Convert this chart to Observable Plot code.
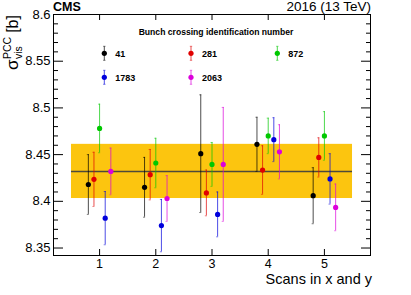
<!DOCTYPE html>
<html><head><meta charset="utf-8">
<script src="https://cdn.jsdelivr.net/npm/d3@7"></script>
<script src="https://cdn.jsdelivr.net/npm/@observablehq/plot@0.6"></script>
<style>
html,body{margin:0;padding:0;background:#fff;}
#chart{position:relative;width:411px;height:295px;}
</style></head><body><div id="chart"></div>
<script>
// ---- data ----
const scans = [1, 2, 3, 4, 5];
const bcids = ["41", "281", "872", "1783", "2063"];
const sigma41   = [8.418, 8.415, 8.451, 8.461, 8.406];
const sigma281  = [8.4235, 8.4285, 8.409, 8.4335, 8.447];
const sigma872  = [8.478, 8.441, 8.4395, 8.470, 8.470];
const sigma1783 = [8.382, 8.374, 8.386, 8.466, 8.424];
const sigma2063 = [8.432, 8.403, 8.4395, 8.453, 8.3935];
const err41   = [0.032, 0.032, 0.063, 0.029, 0.030];
const err281  = [0.029, 0.027, 0.0245, 0.026, 0.021];
const err872  = [0.026, 0.0265, 0.0235, 0.019, 0.026];
const err1783 = [0.0285, 0.028, 0.024, 0.0235, 0.027];
const err2063 = [0.025, 0.0245, 0.061, 0.029, 0.025];
const meanSigma = 8.432;
const meanErr = 0.029;
const bandRange = [0.5, 5.5];
const yMajorTicks = [8.35, 8.4, 8.45, 8.5, 8.55, 8.6];
const yMinorTicks = [8.36, 8.37, 8.38, 8.39, 8.41, 8.42, 8.43, 8.44, 8.46, 8.47, 8.48, 8.49,
                     8.51, 8.52, 8.53, 8.54, 8.56, 8.57, 8.58, 8.59];
const xTicks = [1, 2, 3, 4, 5];
const colors = ["#000000", "#e00000", "#00c800", "#0000dc", "#dc00dc"];

// ---- build table ----
const sigmas = [sigma41, sigma281, sigma872, sigma1783, sigma2063];
const errs = [err41, err281, err872, err1783, err2063];
const dodge = 0.1;
const points = bcids.flatMap((b, i) => scans.map((s, j) => ({
  bcid: b, scan: s, x: s + (i - 2) * dodge, y: sigmas[i][j], e: errs[i][j]
})));
const band = [{x1: bandRange[0], x2: bandRange[1], y1: meanSigma - meanErr, y2: meanSigma + meanErr}];

const font = "'Liberation Sans', Arial, Helvetica, sans-serif";
const capW = 0.018;

const chart = Plot.plot({
  width: 411, height: 295,
  marginLeft: 53, marginRight: 41, marginTop: 14, marginBottom: 40,
  x: {domain: [0.18, 5.82]},
  y: {domain: [8.342, 8.6]},
  color: {domain: bcids, range: colors},
  style: {fontFamily: font, fontSize: "12.5px", color: "#000", background: "#fff"},
  marks: [
    Plot.rect(band, {x1: "x1", x2: "x2", y1: "y1", y2: "y2", fill: "#fcc50f"}),
    Plot.ruleY([meanSigma], {x1: bandRange[0], x2: bandRange[1], stroke: "#4d4a3a", strokeWidth: 1.4}),
    Plot.ruleX(points, {x: "x", y1: d => d.y - d.e, y2: d => d.y + d.e, stroke: "bcid", strokeOpacity: 0.7, strokeWidth: 1}),
    Plot.ruleY(points, {y: d => d.y + d.e, x1: d => d.x - capW, x2: d => d.x + capW, stroke: "bcid", strokeOpacity: 0.5}),
    Plot.ruleY(points, {y: d => d.y - d.e, x1: d => d.x - capW, x2: d => d.x + capW, stroke: "bcid", strokeOpacity: 0.5}),
    Plot.dot(points, {x: "x", y: "y", fill: "bcid", r: 2.6}),
    Plot.frame({stroke: "#000"}),
    // y ticks (inward), left and right
    Plot.axisY({anchor: "left", ticks: yMajorTicks, tickSize: 10, dx: 10, fill: "none", label: null}),
    Plot.axisY({anchor: "left", ticks: yMinorTicks, tickSize: 5, dx: 5, fill: "none", label: null}),
    Plot.axisY({anchor: "right", ticks: yMajorTicks, tickSize: 10, dx: -10, fill: "none", label: null}),
    Plot.axisY({anchor: "right", ticks: yMinorTicks, tickSize: 5, dx: -5, fill: "none", label: null}),
    Plot.axisY({anchor: "left", ticks: yMajorTicks, tickSize: 0, tickPadding: 3, fontSize: 13,
                tickFormat: d => String(d), label: null}),
    // x ticks (inward), bottom and top
    Plot.axisX({anchor: "bottom", ticks: xTicks, tickSize: 6, dy: -6, fill: "none", label: null}),
    Plot.axisX({anchor: "top", ticks: xTicks, tickSize: 5, dy: 5, fill: "none", label: null}),
    Plot.axisX({anchor: "bottom", ticks: xTicks, tickSize: 0, tickPadding: 4, fontSize: 12.5,
                tickFormat: d => String(d), label: null})
  ]
});
document.getElementById("chart").appendChild(chart);

// ---- annotations ----
const svg = d3.select(chart);
const ann = svg.append("g").attr("font-family", font).attr("fill", "#000").attr("text-anchor", "start");
ann.append("text").attr("x", 53).attr("y", 10.5).attr("font-weight", "bold").attr("font-size", 12.5).text("CMS");
ann.append("text").attr("x", 371).attr("y", 11).attr("text-anchor", "end").attr("font-size", 13.5).text("2016 (13 TeV)");
ann.append("text").attr("x", 372).attr("y", 284).attr("text-anchor", "end").attr("font-size", 14.5).text("Scans in x and y");

// y label with stacked super/subscript
const yl = ann.append("g").attr("transform", "translate(18,70) rotate(-90)");
const sig = yl.append("text").attr("x", 0).attr("y", 0).attr("font-size", 17).text("σ");
const sw = sig.node().getComputedTextLength();
const sup = yl.append("text").attr("x", sw + 0.5).attr("y", -7.5).attr("font-size", 10.5).text("PCC");
const sub = yl.append("text").attr("x", sw + 0.5).attr("y", 3.5).attr("font-size", 10.5).text("vis");
const sx = sw + 0.5 + Math.max(sup.node().getComputedTextLength(), sub.node().getComputedTextLength()) + 4;
yl.append("text").attr("x", sx).attr("y", 0).attr("font-size", 16).text("[b]");

// legend
const leg = ann.append("g");
leg.append("text").attr("x", 216).attr("y", 34.5).attr("text-anchor", "middle")
  .attr("font-weight", "bold").attr("font-size", 8.6).text("Bunch crossing identification number");
const legCols = [104.3, 191, 277.3];
const legRows = [53.3, 77.3];
bcids.forEach((b, i) => {
  const cx = legCols[i % 3], cy = legRows[Math.floor(i / 3)];
  const g = leg.append("g");
  g.append("line").attr("x1", cx).attr("x2", cx).attr("y1", cy - 7).attr("y2", cy + 7)
    .attr("stroke", colors[i]).attr("stroke-opacity", 0.7);
  [cy - 7, cy + 7].forEach(yy => g.append("line").attr("x1", cx - 1.2).attr("x2", cx + 1.2)
    .attr("y1", yy).attr("y2", yy).attr("stroke", colors[i]).attr("stroke-opacity", 0.5));
  g.append("circle").attr("cx", cx).attr("cy", cy).attr("r", 2.6).attr("fill", colors[i]);
  g.append("text").attr("x", cx + 11).attr("y", cy + 3.3).attr("font-weight", "bold")
    .attr("font-size", 9).text(b);
});
</script></body></html>
